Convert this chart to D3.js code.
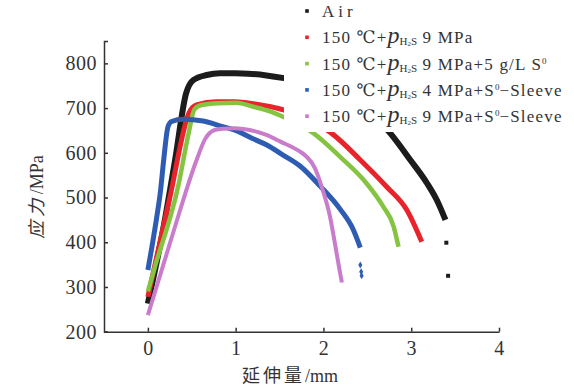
<!DOCTYPE html>
<html>
<head>
<meta charset="utf-8">
<script src="https://cdn.jsdelivr.net/npm/d3@7"></script>
<style>
  body { margin: 0; background: #fff; }
  text { font-family: "Liberation Serif", "Times New Roman", Tinos, "DejaVu Serif", "Noto Serif", serif; fill: #333; }
</style>
</head>
<body>
<div id="chart"></div>
<script>
// Stress-elongation curves, values

var airStrain = [0, 0.175, 0.31, 0.435, 0.52, 0.67, 0.82, 1.0, 1.14, 1.35, 1.55, 1.8, 2.1, 2.45, 2.76, 2.99, 3.18, 3.29, 3.39];
var airStress = [263, 430, 584, 733, 763, 774, 778, 778, 777, 773, 767, 757, 740, 705, 644, 584, 532, 495, 450];
var airDotStrain = [3.40, 3.42];
var airDotStress = [399, 325];

var h9Strain = [0, 0.25, 0.47, 0.555, 0.78, 0.99, 1.2, 1.4, 1.545, 1.8, 2.09, 2.42, 2.72, 2.95, 3.12];
var h9Stress = [278, 500, 690, 707, 714, 714, 710, 703, 696, 676, 644, 584, 524, 472, 401];

var s5Strain = [0, 0.08, 0.345, 0.46, 0.53, 0.61, 0.80, 1.01, 1.2, 1.4, 1.545, 1.885, 2.19, 2.49, 2.68, 2.80, 2.855];
var s5Stress = [290, 345, 525, 640, 697, 707, 711, 712, 703, 692, 680, 644, 591, 532, 480, 435, 390];

var sl4Strain = [0, 0.04, 0.10, 0.145, 0.18, 0.23, 0.27, 0.40, 0.63, 0.84, 1.0, 1.18, 1.35, 1.54, 1.73, 1.96, 2.19, 2.34, 2.42];
var sl4Stress = [338, 383, 455, 517, 584, 659, 670, 675, 671, 659, 650, 633, 618, 595, 571, 526, 474, 428, 388];
var sl4DotStrain = [2.42, 2.43, 2.435];
var sl4DotStress = [349, 334, 325];

var sl9Strain = [0, 0.27, 0.555, 0.65, 0.76, 0.85, 0.99, 1.16, 1.35, 1.51, 1.73, 1.81, 1.9, 1.98, 2.075, 2.13, 2.19, 2.21];
var sl9Stress = [237, 410, 584, 630, 651, 654, 655, 651, 640, 625, 603, 591, 567, 524, 457, 398, 331, 310];

var xTicks = [0, 1, 2, 3, 4];
var yTicks = [200, 300, 400, 500, 600, 700, 800];

var seriesColors = ["#1c1c1c", "#e8232b", "#84c441", "#2d5cb2", "#c97ccb"];
var seriesWidths = [6, 5, 4.5, 5, 4];
var legendPressure = ["", "9", "9", "4", "9"];
var legendTail = ["", "", "+5 g/L S", "+S", "+S"];
var legendEnd = ["", "", "", "\u2212Sleeve", "\u2212Sleeve"];

var width = 574;
var height = 389;

var svg = d3
  .select("#chart")
  .append("svg")
  .attr("width", width)
  .attr("height", height);

var xScale = d3.scaleLinear().domain([-0.5, 4]).range([104, 499]);
var yScale = d3.scaleLinear().domain([200, 850]).range([331.7, 41]);

// build point lists
function zipPts(xs, ys) {
  return xs.map(function(v, i) { return [v, ys[i]]; });
}
var curves = [
  zipPts(airStrain, airStress),
  zipPts(h9Strain, h9Stress),
  zipPts(s5Strain, s5Stress),
  zipPts(sl4Strain, sl4Stress),
  zipPts(sl9Strain, sl9Stress)
];

var line = d3
  .line()
  .x(function(d) { return xScale(d[0]); })
  .y(function(d) { return yScale(d[1]); })
  .curve(d3.curveMonotoneX);

svg
  .append("g")
  .selectAll("path")
  .data(curves)
  .enter()
  .append("path")
  .attr("d", line)
  .attr("fill", "none")
  .attr("stroke", function(d, i) { return seriesColors[i]; })
  .attr("stroke-width", function(d, i) { return seriesWidths[i]; })
  .attr("stroke-linejoin", "round");

// stray end points
svg
  .append("g")
  .selectAll("rect")
  .data(zipPts(airDotStrain, airDotStress))
  .enter()
  .append("rect")
  .attr("x", function(d) { return xScale(d[0]) - 2; })
  .attr("y", function(d) { return yScale(d[1]) - 2; })
  .attr("width", 4)
  .attr("height", 4)
  .attr("fill", seriesColors[0]);

svg
  .append("g")
  .selectAll("path")
  .data(zipPts(sl4DotStrain, sl4DotStress))
  .enter()
  .append("path")
  .attr("d", d3.symbol().type(d3.symbolDiamond).size(14))
  .attr("transform", function(d) {
    return "translate(" + xScale(d[0]) + "," + yScale(d[1]) + ")";
  })
  .attr("fill", seriesColors[3]);

// axes
var xAxis = d3.axisBottom(xScale).tickValues(xTicks).tickFormat(d3.format("d"))
  .tickSize(-4).tickSizeOuter(0).tickPadding(9);
var yAxis = d3.axisLeft(yScale).tickValues(yTicks).tickFormat(d3.format("d"))
  .tickSize(-4).tickSizeOuter(-4).tickPadding(7);

var gx = svg
  .append("g")
  .attr("transform", "translate(0," + yScale(200) + ")")
  .call(xAxis);
var gy = svg
  .append("g")
  .attr("transform", "translate(" + xScale(-0.5) + ",0)")
  .call(yAxis);

[gx, gy].forEach(function(g) {
  g.attr("font-family", null);
  g.selectAll("path, line").attr("stroke", "#333").attr("stroke-width", 1.5);
  g.selectAll("text")
    .style("font-size", "20px")
    .style("letter-spacing", "0.5px")
    .attr("fill", "#333");
});

// axis titles
svg
  .append("text")
  .attr("x", 290)
  .attr("y", 382)
  .attr("text-anchor", "middle")
  .style("font-size", "18px")
  .html("<tspan style=\"font-family:'Noto Sans CJK SC';letter-spacing:3px\">延伸量</tspan>/mm");

svg
  .append("text")
  .attr("transform", "translate(43,197)rotate(-90)")
  .attr("text-anchor", "middle")
  .style("font-size", "18px")
  .html("<tspan style=\"font-family:'Noto Sans CJK SC';font-style:italic\">应 力</tspan> /MPa");

// legend box hides the curves behind it
svg
  .append("rect")
  .attr("x", 284)
  .attr("y", 0)
  .attr("width", width - 284)
  .attr("height", 132)
  .attr("fill", "#fff");

var legend = svg.append("g").attr("transform", "translate(307,0)");

seriesColors.forEach(function(c, i) {
  var ly = 11 + i * 26.3;
  legend
    .append("rect")
    .attr("x", -1.8)
    .attr("y", ly - 1.8)
    .attr("width", 3.6)
    .attr("height", 3.6)
    .attr("fill", c);

  var t = legend
    .append("text")
    .attr("x", 15)
    .attr("y", ly + 6)
    .style("font-size", "17px")
    .style("letter-spacing", "1.2px");

  if (i === 0) {
    t.style("letter-spacing", "4px").text("Air");
    return;
  }
  t.append("tspan").text("150 \u2103+");
  t.append("tspan")
    .style("font-style", "italic")
    .style("font-size", "24px")
    .style("letter-spacing", "0px")
    .text("p");
  t.append("tspan").attr("dy", 2).style("font-size", "11px").style("letter-spacing", "0px").text("H");
  t.append("tspan").attr("dy", 1).style("font-size", "7px").style("letter-spacing", "0px").text("2");
  t.append("tspan").attr("dy", -1).style("font-size", "11px").style("letter-spacing", "0px").text("S");
  t.append("tspan").attr("dy", -2).text(" " + legendPressure[i] + " MPa" + legendTail[i]);
  if (legendTail[i]) {
    t.append("tspan").attr("dy", -6).style("font-size", "9px").style("letter-spacing", "0px").text("0");
    t.append("tspan").attr("dy", 6).text(legendEnd[i]);
  }
});
</script>
</body>
</html>
